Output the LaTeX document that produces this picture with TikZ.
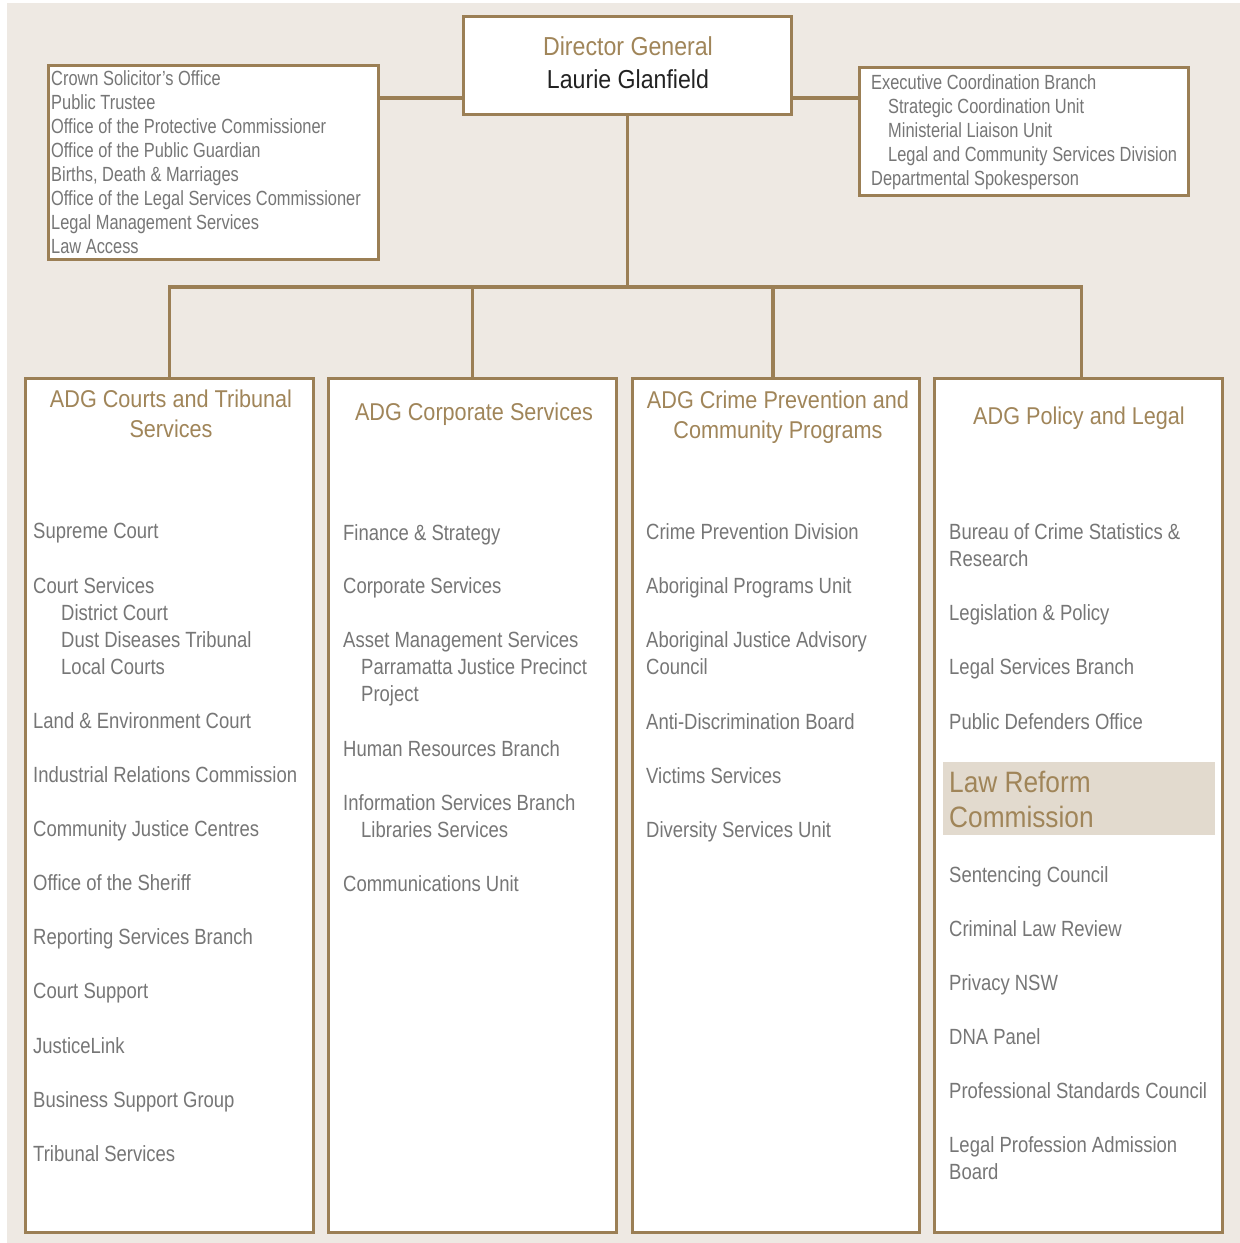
\documentclass[tikz,border=0pt]{standalone}
\usepackage{fontspec}
\setmainfont{Liberation Sans}
\newfontfamily\itemfam{Liberation Sans}[FakeStretch=0.84]
\newfontfamily\boxfam{Liberation Sans}[FakeStretch=0.80]
\newfontfamily\headfam{Liberation Sans}[FakeStretch=0.89]
\definecolor{bgbeige}{HTML}{EEE9E3}
\definecolor{lineb}{HTML}{9B7F55}
\definecolor{headbr}{HTML}{A08559}
\definecolor{txtgray}{HTML}{767676}
\definecolor{darktxt}{HTML}{222222}
\definecolor{hilite}{HTML}{E2DACE}
\tikzset{
  box/.style={draw=lineb, line width=3pt, fill=white, inner sep=0pt, anchor=north west},
  conn/.style={draw=lineb, line width=3.8pt, line join=miter},
  itm/.style={anchor=base west, inner sep=0pt, text=txtgray, font=\itemfam\fontsize{22}{26}\selectfont},
  sml/.style={anchor=base west, inner sep=0pt, text=txtgray, font=\boxfam\fontsize{20.5}{24}\selectfont},
  hd/.style={anchor=base, inner sep=0pt, text=headbr, font=\headfam\fontsize{24.3}{30}\selectfont},
  dgt/.style={anchor=base, inner sep=0pt, font=\headfam\fontsize{26}{30}\selectfont},
  lrc/.style={anchor=base west, inner sep=0pt, text=headbr, font=\headfam\fontsize{29.5}{34}\selectfont}
}
\begin{document}
\begin{tikzpicture}[x=1pt,y=-1pt]
\useasboundingbox (0,0) rectangle (1240,1243);
\fill[white] (0,0) rectangle (1240,1243);
\fill[bgbeige] (7,3) rectangle (1240,1243);

% boxes (outer edges at the given corners)
\node[box, minimum width=328pt, minimum height=98pt] (dg) at (462,15) {};
\node[box, minimum width=330pt, minimum height=194pt] (lb) at (47,64) {};
\node[box, minimum width=329pt, minimum height=128pt] (rb) at (858,66) {};
\node[box, minimum width=288pt, minimum height=854pt] (b1) at (24,377) {};
\node[box, minimum width=288pt, minimum height=854pt] (b2) at (327,377) {};
\node[box, minimum width=287pt, minimum height=854pt] (b3) at (631,377) {};
\node[box, minimum width=288pt, minimum height=854pt] (b4) at (933,377) {};

% connectors
\coordinate (jl) at (0,98);
\coordinate (bar) at (0,287);
\draw[conn] (lb.east |- jl) -- (dg.west |- jl);
\draw[conn] (dg.east |- jl) -- (rb.west |- jl);
\draw[conn] (dg.south) -- (dg.south |- bar);
\draw[conn] (b1.north) -- (b1.north |- bar) -- ([xshift=3pt]b4.north |- bar) -- ([xshift=3pt]b4.north);
\draw[conn] (b2.north |- bar) -- (b2.north);
\draw[conn] ([xshift=-3pt]b3.north |- bar) -- ([xshift=-3pt]b3.north);

% director general
\node[dgt, text=headbr] (dg1) at (628,55) {Director General};
\node[dgt, text=darktxt] (dg2) at (628,88) {Laurie Glanfield};

% left box
\foreach \y/\t [count=\i] in {85/{Crown Solicitor’s Office},109/{Public Trustee},133/{Office of the Protective Commissioner},157/{Office of the Public Guardian},181/{Births, Death \& Marriages},205/{Office of the Legal Services Commissioner},229/{Legal Management Services},253/{Law Access}}
  \node[sml] (l-\i) at (51,\y) {\t};

% right box
\foreach \x/\y/\t [count=\i] in {871/89.5/{Executive Coordination Branch},888/113.5/{Strategic Coordination Unit},888/137.5/{Ministerial Liaison Unit},888/161.5/{Legal and Community Services Division},871/185.5/{Departmental Spokesperson}}
  \node[sml] (r-\i) at (\x,\y) {\t};

% headers
\node[hd] (h1a) at (171,407) {ADG Courts and Tribunal};
\node[hd] (h1b) at (171,437.5) {Services};
\node[hd] (h2) at (474,420) {ADG Corporate Services};
\node[hd] (h3a) at (778,408) {ADG Crime Prevention and};
\node[hd] (h3b) at (778,438) {Community Programs};
\node[hd] (h4) at (1079,424) {ADG Policy and Legal};

% column 1
\foreach \x/\y/\t [count=\i] in {33/538/{Supreme Court},33/593/{Court Services},61/620/{District Court},61/647/{Dust Diseases Tribunal},61/674/{Local Courts},33/728/{Land \& Environment Court},33/782/{Industrial Relations Commission},33/836/{Community Justice Centres},33/890/{Office of the Sheriff},33/944/{Reporting Services Branch},33/998/{Court Support},33/1053/{JusticeLink},33/1107/{Business Support Group},33/1161/{Tribunal Services}}
  \node[itm] (c1-\i) at (\x,\y) {\t};

% column 2
\foreach \x/\y/\t [count=\i] in {343/540/{Finance \& Strategy},343/593/{Corporate Services},343/647/{Asset Management Services},361/674/{Parramatta Justice Precinct},361/701/{Project},343/756/{Human Resources Branch},343/810/{Information Services Branch},361/837/{Libraries Services},343/891/{Communications Unit}}
  \node[itm] (c2-\i) at (\x,\y) {\t};

% column 3
\foreach \y/\t [count=\i] in {539/{Crime Prevention Division},593/{Aboriginal Programs Unit},647/{Aboriginal Justice Advisory},674/{Council},729/{Anti-Discrimination Board},783/{Victims Services},837/{Diversity Services Unit}}
  \node[itm] (c3-\i) at (646,\y) {\t};

% column 4
\fill[hilite] (943,762) rectangle (1215,835);
\node[lrc] (lr1) at (949,792) {Law Reform};
\node[lrc] (lr2) at (949,827) {Commission};
\foreach \y/\t [count=\i] in {539/{Bureau of Crime Statistics \&},566/{Research},620/{Legislation \& Policy},674/{Legal Services Branch},729/{Public Defenders Office},882/{Sentencing Council},936/{Criminal Law Review},990/{Privacy NSW},1044/{DNA Panel},1098/{Professional Standards Council},1152/{Legal Profession Admission},1179/{Board}}
  \node[itm] (c4-\i) at (949,\y) {\t};
\end{tikzpicture}
\end{document}
